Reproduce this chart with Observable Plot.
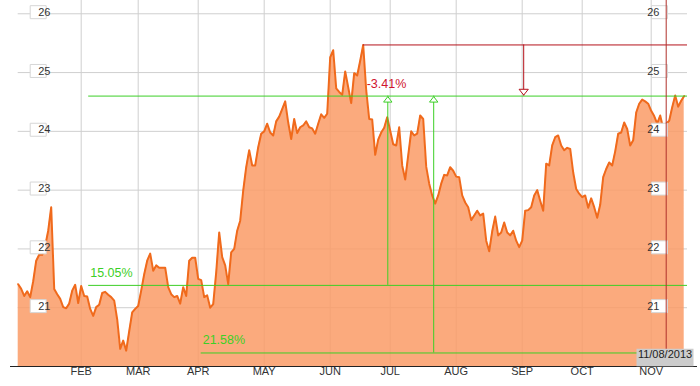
<!DOCTYPE html>
<html>
<head>
<meta charset="utf-8">
<script src="https://cdn.jsdelivr.net/npm/d3@7"></script>
<script src="https://cdn.jsdelivr.net/npm/@observablehq/plot@0.6"></script>
<style>
  html, body { margin: 0; padding: 0; background: #fff; }
  #chart { width: 700px; height: 386px; }
</style>
</head>
<body>
<div id="chart"></div>
<script>
// Daily closes, one per trading day (index 0 = first trading day of 2013)
const closes = [
  21.40, 21.32, 21.20, 21.28, 21.18, 21.45, 21.80, 21.90, 21.90, 22.05,
  22.31, 22.71, 21.32, 21.23, 21.15, 21.01, 20.99, 21.07, 21.29, 21.39,
  21.08, 21.37, 21.20, 21.19, 20.98, 20.86, 21.01, 21.05, 21.25, 21.27,
  21.22, 21.18, 21.12, 20.80, 20.30, 20.44, 20.27, 20.60, 20.92, 20.98,
  21.03, 21.29, 21.57, 21.80, 21.92, 21.63, 21.72, 21.68, 21.68, 21.68,
  21.35, 21.23, 21.18, 21.20, 21.07, 21.35, 21.20, 21.80, 21.85, 21.85,
  21.49, 21.47, 21.18, 21.21, 21.00, 21.06, 21.60, 22.28, 21.86, 21.72,
  21.40, 21.94, 22.00, 22.31, 22.48, 22.99, 23.39, 23.68, 23.42, 23.42,
  23.73, 23.96, 24.00, 24.13, 23.98, 23.93, 24.17, 24.25, 24.38, 24.51,
  24.15, 23.87, 24.21, 23.97, 24.07, 24.10, 24.17, 24.07, 24.05, 23.96,
  24.13, 24.29, 24.23, 24.30, 25.26, 25.38, 24.73, 24.67, 24.62, 25.02,
  24.75, 24.48, 24.99, 24.95, 25.20, 25.47, 24.70, 24.21, 24.20, 23.60,
  23.86, 23.98, 24.06, 24.24, 24.01, 23.78, 23.76, 24.07, 23.42, 23.18,
  23.59, 24.00, 23.93, 23.96, 24.27, 24.21, 23.40, 23.11, 22.91, 22.77,
  22.91, 23.11, 23.26, 23.25, 23.39, 23.33, 23.23, 23.22, 22.91, 22.79,
  22.71, 22.49, 22.57, 22.65, 22.57, 22.60, 22.14, 21.96, 22.30, 22.55,
  22.23, 22.28, 22.45, 22.28, 22.23, 22.31, 22.14, 22.03, 22.14, 22.65,
  22.66, 22.71, 22.91, 23.00, 22.82, 22.65, 23.45, 23.42, 23.76, 23.90,
  23.93, 23.76, 23.68, 23.72, 23.70, 23.30, 23.02, 22.94, 22.88, 22.91,
  22.70, 22.86, 22.71, 22.53, 22.75, 23.22, 23.36, 23.47, 23.42, 23.66,
  23.96, 23.98, 24.15, 24.04, 23.76, 23.85, 24.32, 24.47, 24.54, 24.51,
  24.47, 24.35, 24.26, 24.13, 24.27, 24.05, 24.13, 24.18, 24.41, 24.61,
  24.42, 24.52, 24.60
];

// Month axis: label and trading-day index of the first session of the month
const monthLabels = ["FEB", "MAR", "APR", "MAY", "JUN", "JUL", "AUG", "SEP", "OCT", "NOV"];
const monthStarts = [21, 40, 60, 82, 104, 124, 146, 168, 188, 211];

// Value axis ticks
const yTicks = [21, 22, 23, 24, 25, 26];

// Annotation levels
const supportLevels = [21.38, 20.23];          // lows behind 15.05% and 21.58%
const supportStarts = [23.5, 61];              // trading-day index where each level starts
const supportLabels = ["15.05%", "21.58%"];
const arrowDays = [123.2, 138.5];              // green up arrows
const dropArrowDay = 168.5;                    // red down arrow
const dropLabel = "-3.41%";
const markerDay = 216;                         // 11/08/2013
const markerLabel = "11/08/2013";

const lastIdx = closes.length - 1;
const current = closes[lastIdx];
const peakIdx = d3.maxIndex(closes);
const peak = closes[peakIdx];
const xMax = 223.1;
const yMin = 20, yMax = 26.226;

const data = closes.map((v, i) => ({i, v}));

const green = "#3ccf26";
const red = "#b5121b";
const font = "Liberation Sans, Arial, Helvetica, sans-serif";

const boxSym = (w, h) => ({draw(ctx) { ctx.rect(-w / 2, -h / 2, w, h); }});
const triUp = {draw(ctx) { ctx.moveTo(0, 0); ctx.lineTo(4.2, 5.5); ctx.lineTo(-4.2, 5.5); ctx.closePath(); }};
const triDown = {draw(ctx) { ctx.moveTo(0, 0); ctx.lineTo(4.6, -5.8); ctx.lineTo(-4.6, -5.8); ctx.closePath(); }};

const supports = supportLevels.map((v, k) => ({v, start: supportStarts[k], label: supportLabels[k]}));
const arrows = arrowDays.map((d, k) => ({d, from: supportLevels[k]}));

const chart = Plot.plot({
  width: 700,
  height: 386,
  marginLeft: 17.7,
  marginRight: 13,
  marginTop: 0,
  marginBottom: 20,
  style: {fontFamily: font, background: "#fff", overflow: "visible"},
  x: {domain: [0, xMax], axis: null},
  y: {domain: [yMin, yMax], axis: null},
  marks: [
    // grid
    Plot.ruleX(monthStarts, {stroke: "#cfcfcf", strokeWidth: 1}),
    Plot.ruleY(yTicks, {stroke: "#cfcfcf", strokeWidth: 1}),
    // area + line
    Plot.areaY(data, {x: "i", y1: yMin, y2: "v", fill: "rgb(250,155,102)", fillOpacity: 0.85}),
    Plot.lineY(data, {x: "i", y: "v", stroke: "#f06a1c", strokeWidth: 2, strokeLinejoin: "round"}),
    // bottom axis line
    Plot.ruleY([yMin], {stroke: "#222", strokeWidth: 1, insetLeft: -7.7, insetRight: -10}),
    // month labels
    Plot.text(monthStarts, {x: d => d, frameAnchor: "bottom", dy: 8.5, text: (d, k) => monthLabels[k],
      fill: "#333", fontSize: 11}),
    // green level lines
    Plot.ruleY([current], {x1: supportStarts[0], x2: xMax, stroke: green, strokeWidth: 1}),
    Plot.ruleY(supports, {y: "v", x1: "start", x2: xMax, stroke: green, strokeWidth: 1}),
    Plot.ruleX(arrows, {x: "d", y1: "from", y2: current, stroke: green, strokeWidth: 1}),
    Plot.dot(arrows, {x: "d", y: current, symbol: triUp, r: 4, fill: "white", stroke: green, strokeWidth: 1, dy: 0.5}),
    Plot.text(supports, {x: "start", y: "v", text: "label", textAnchor: "start", dx: 1.5, dy: -12.5,
      fill: green, fontSize: 12.5}),
    // red peak line and drop arrow
    Plot.ruleY([peak], {x1: peakIdx, x2: xMax, stroke: red, strokeWidth: 1}),
    Plot.ruleX([dropArrowDay], {y1: peak, y2: current, stroke: red, strokeWidth: 1}),
    Plot.dot([dropArrowDay], {x: d => d, y: current, symbol: triDown, r: 4, fill: "white", stroke: red, strokeWidth: 1, dy: -1}),
    Plot.text([dropLabel], {x: peakIdx, y: current, text: d => d, textAnchor: "start", dx: 3.5, dy: -12.5,
      fill: "#d0142e", fontSize: 12.5}),
    // y label boxes (left and right)
    Plot.dot(yTicks, {y: d => d, frameAnchor: "left", dx: 20, dy: -1.6, symbol: boxSym(16, 13), r: 5,
      fill: "white", stroke: "#d6d6d6", strokeWidth: 1}),
    Plot.text(yTicks, {y: d => d, frameAnchor: "left", dx: 20, dy: -1.6, text: d => String(d), fill: "#333", fontSize: 11}),
    Plot.dot(yTicks, {y: d => d, frameAnchor: "right", dx: -28, dy: -1.6, symbol: boxSym(16, 13), r: 5,
      fill: "white", stroke: "#d6d6d6", strokeWidth: 1}),
    Plot.text(yTicks, {y: d => d, frameAnchor: "right", dx: -28, dy: -1.6, text: d => String(d), fill: "#333", fontSize: 11}),
    // current date marker
    Plot.ruleX([markerDay], {stroke: "#b0302a", strokeWidth: 1}),
    Plot.dot([markerDay], {x: d => d, frameAnchor: "bottom", dy: -9, dx: -1.2, symbol: boxSym(57, 17.5), r: 5,
      fill: "#cccccc", stroke: "none"}),
    Plot.text([markerLabel], {x: markerDay, frameAnchor: "bottom", dy: -8.5, dx: -1.2, text: d => d, fill: "#222", fontSize: 11})
  ]
});

document.getElementById("chart").appendChild(chart);
</script>
</body>
</html>
